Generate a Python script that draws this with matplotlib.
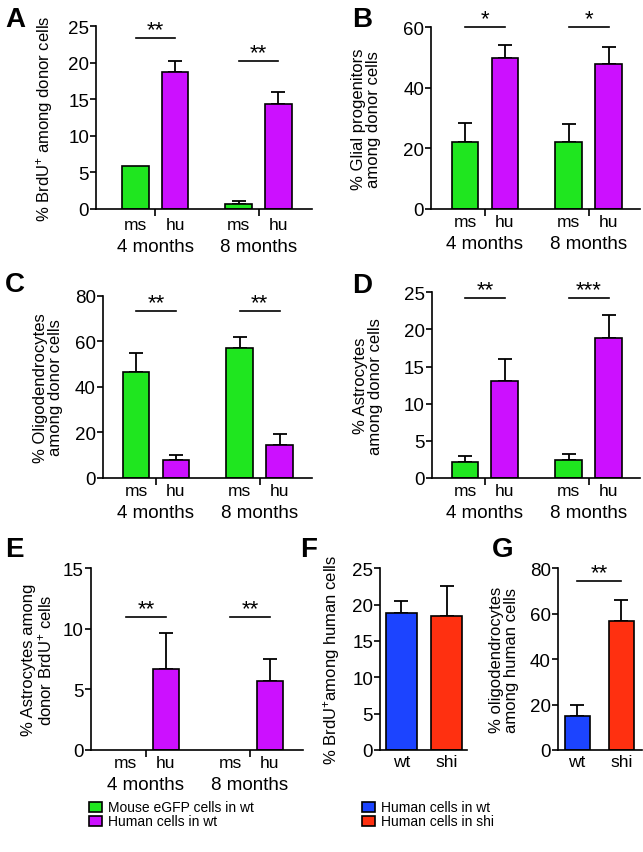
import matplotlib
matplotlib.use('Agg')
import matplotlib.pyplot as plt
from matplotlib.patches import Rectangle

plt.rcParams['font.family'] = ['Liberation Sans', 'DejaVu Sans']
plt.rcParams['mathtext.fontset'] = 'custom'
plt.rcParams['mathtext.rm'] = 'Liberation Sans'
plt.rcParams['mathtext.it'] = 'Liberation Sans:italic'
plt.rcParams['mathtext.bf'] = 'Liberation Sans:bold'

# ---------------- data ----------------
months = ['4 months', '8 months']
species = ['ms', 'hu']
hosts = ['wt', 'shi']

A_ms = [5.9, 0.7];   A_ms_err = [0.0, 0.45]
A_hu = [18.8, 14.4]; A_hu_err = [1.5, 1.65]
A_sig = [(23.4, '**'), (20.2, '**')]

B_ms = [22.0, 22.0]; B_ms_err = [6.3, 6.0]
B_hu = [49.8, 47.8]; B_hu_err = [4.4, 5.6]
B_sig = [(60.0, '*'), (60.0, '*')]

C_ms = [46.4, 56.9]; C_ms_err = [8.3, 4.8]
C_hu = [7.8, 14.6];  C_hu_err = [2.3, 4.7]
C_sig = [(73.2, '**'), (73.2, '**')]

D_ms = [2.1, 2.4];   D_ms_err = [0.8, 0.8]
D_hu = [13.0, 18.8]; D_hu_err = [3.0, 3.1]
D_sig = [(24.2, '**'), (24.2, '***')]

E_ms = [0.0, 0.0];   E_ms_err = [0.0, 0.0]
E_hu = [6.7, 5.7];   E_hu_err = [3.0, 1.8]
E_sig = [(11.0, '**'), (11.0, '**')]

F_vals = [18.85, 18.4]; F_err = [1.6, 4.1]
G_vals = [15.1, 56.6];  G_err = [4.7, 9.6]
G_sig = (74.5, '**')

legend_left = ['Mouse eGFP cells in wt', 'Human cells in wt']
legend_right = ['Human cells in wt', 'Human cells in shi']

# ---------------- style ----------------
GREEN = '#1fe61f'
PURPLE = '#cc10ff'
BLUE = '#1c44ff'
RED = '#ff3010'

W, H = 643, 853
fig = plt.figure(figsize=(W / 100, H / 100), dpi=100)


def add_ax(left, top, right, bottom):
    return fig.add_axes([left / W, 1 - bottom / H, (right - left) / W, (bottom - top) / H])


def style(ax, ymax, ystep, ylabel, lab_right_px, left_px, right_px):
    for s in ['top', 'right']:
        ax.spines[s].set_visible(False)
    for s in ['left', 'bottom']:
        ax.spines[s].set_linewidth(1.2)
    ax.set_ylim(0, ymax)
    ax.set_yticks(list(range(0, int(ymax) + 1, ystep)))
    ax.tick_params(axis='y', direction='out', length=4, width=1.2, labelsize=13.5, pad=1)
    ax.set_ylabel(ylabel, fontsize=12, linespacing=1.0)
    frac = (lab_right_px - left_px) / (right_px - left_px)
    ax.yaxis.set_label_coords(frac, 0.5)


def stars(ax, x, y, s):
    ax.annotate(s, xy=(x, y), xytext=(0, 3), textcoords='offset pixels',
                ha='center', va='baseline', fontsize=16, annotation_clip=False)


ms_pos = [0.0, 2.6]
hu_pos = [1.0, 3.6]
sep_pos = [0.5, 3.1]
BW = 0.67
EK = dict(ecolor='black', elinewidth=1.3, capsize=5, capthick=1.3)


def grouped(ax, ms, ms_err, hu, hu_err, sig, xlim, lab_off=(13, 35)):
    for x, v, e in zip(ms_pos, ms, ms_err):
        if v > 0:
            ax.bar(x, v, width=BW, color=GREEN, edgecolor='black', linewidth=1.2, zorder=2)
            if e > 0:
                ax.errorbar(x, v, yerr=[[0], [e]], fmt='none', zorder=1, **EK)
    for x, v, e in zip(hu_pos, hu, hu_err):
        ax.bar(x, v, width=BW, color=PURPLE, edgecolor='black', linewidth=1.2, zorder=2)
        ax.errorbar(x, v, yerr=[[0], [e]], fmt='none', zorder=1, **EK)
    for (y, s), x0, x1 in zip(sig, ms_pos, hu_pos):
        ax.plot([x0, x1], [y, y], color='black', lw=1.2, clip_on=False)
        stars(ax, (x0 + x1) / 2, y, s)
    ax.set_xlim(*xlim)
    ax.set_xticks(sep_pos)
    ax.set_xticklabels([])
    ax.tick_params(axis='x', direction='out', length=5, width=1.2)
    for x in ms_pos:
        ax.annotate(species[0], xy=(x, 0), xycoords=('data', 'axes fraction'), xytext=(0, -lab_off[0]),
                    textcoords='offset pixels', ha='center', va='center', fontsize=12.5, annotation_clip=False)
    for x in hu_pos:
        ax.annotate(species[1], xy=(x, 0), xycoords=('data', 'axes fraction'), xytext=(0, -lab_off[0]),
                    textcoords='offset pixels', ha='center', va='center', fontsize=12.5, annotation_clip=False)
    for x, m in zip(sep_pos, months):
        ax.annotate(m, xy=(x, 0), xycoords=('data', 'axes fraction'), xytext=(0, -lab_off[1]),
                    textcoords='offset pixels', ha='center', va='center', fontsize=13.5, annotation_clip=False)


# Panel A
axA = add_ax(96, 27.3, 312, 210)
style(axA, 25, 5, '% BrdU$^{+}$ among donor cells', 55, 96, 312)
grouped(axA, A_ms, A_ms_err, A_hu, A_hu_err, A_sig, (-0.995, 4.446), lab_off=(16, 38))

# Panel B
axB = add_ax(431, 28.3, 640, 210)
style(axB, 60, 20, '% Glial progenitors\namong donor cells', 381, 431, 640)
grouped(axB, B_ms, B_ms_err, B_hu, B_hu_err, B_sig, (-0.853, 4.39))

# Panel C
axC = add_ax(102.7, 296.7, 312, 479)
style(axC, 80, 20, '% Oligodendrocytes\namong donor cells', 63, 102.7, 312)
grouped(axC, C_ms, C_ms_err, C_hu, C_hu_err, C_sig, (-0.835, 4.415))

# Panel D
axD = add_ax(431.7, 293.3, 640, 479)
style(axD, 25, 5, '% Astrocytes\namong donor cells', 383, 431.7, 640)
grouped(axD, D_ms, D_ms_err, D_hu, D_hu_err, D_sig, (-0.835, 4.39))

# Panel E
axE = add_ax(90.7, 569.3, 303, 751)
style(axE, 15, 5, '% Astrocytes among\ndonor BrdU$^{+}$ cells', 54, 90.7, 303)
grouped(axE, E_ms, E_ms_err, E_hu, E_hu_err, E_sig, (-0.88, 4.425))

# Panel F
axF = add_ax(380, 569.3, 467, 751)
style(axF, 25, 5, '% BrdU$^{+}$among human cells', 342, 380, 467)
xF = [0, 1]
axF.bar(xF, F_vals, width=0.68, color=[BLUE, RED], edgecolor='black', linewidth=1.2, zorder=2)
axF.errorbar(xF, F_vals, yerr=[[0, 0], F_err], fmt='none', zorder=1, **EK)
axF.set_xlim(-0.47, 1.44)
axF.set_xticks(xF)
axF.set_xticklabels(hosts, fontsize=12.5)
axF.tick_params(axis='x', length=0, pad=3)

# Panel G
axG = add_ax(557.7, 569.3, 642, 751)
style(axG, 80, 20, '% oligodendrocytes\namong human cells', 519, 557.7, 642)
xG = [0, 1]
axG.bar(xG, G_vals, width=0.57, color=[BLUE, RED], edgecolor='black', linewidth=1.2, zorder=2)
axG.errorbar(xG, G_vals, yerr=[[0, 0], G_err], fmt='none', zorder=1, **EK)
axG.plot([0, 1], [G_sig[0]] * 2, color='black', lw=1.2, clip_on=False)
stars(axG, 0.5, G_sig[0], G_sig[1])
axG.set_xlim(-0.44, 1.47)
axG.set_xticks(xG)
axG.set_xticklabels(hosts, fontsize=12.5)
axG.tick_params(axis='x', length=0, pad=3)

# Panel letters
for letter, x, y in [('A', 5, 27), ('B', 352, 27), ('C', 5, 292), ('D', 352, 293),
                     ('E', 5, 557), ('F', 300, 557), ('G', 492, 557)]:
    fig.text(x / W, 1 - y / H, letter, fontsize=20, fontweight='bold', ha='left', va='baseline')


# Legend (manual)
def legend_block(x_px, labels, colors):
    for i, (lab, c) in enumerate(zip(labels, colors)):
        yc = 808 + 14 * i
        fig.add_artist(Rectangle((x_px / W, 1 - (yc + 5) / H), 13 / W, 10 / H,
                                 transform=fig.transFigure, facecolor=c, edgecolor='black', linewidth=1.2))
        fig.text((x_px + 19) / W, 1 - yc / H, lab, fontsize=10, ha='left', va='center')


legend_block(89, legend_left, [GREEN, PURPLE])
legend_block(362, legend_right, [BLUE, RED])

fig.savefig('out.png', dpi=100)
